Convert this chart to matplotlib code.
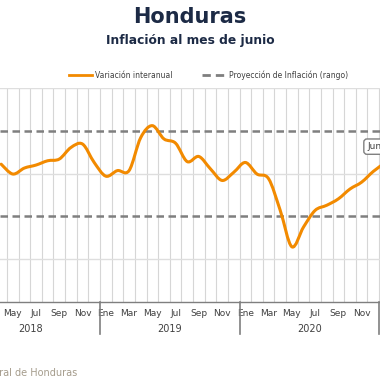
import numpy as np
import matplotlib.pyplot as plt
from matplotlib.path import Path
from matplotlib.patches import PathPatch
from matplotlib.transforms import blended_transform_factory

# monthly interannual inflation (%), Apr 2018 .. Jan 2021
meses_idx = np.arange(3, 37)          # 0 = Ene 2018
inflacion = [4.22, 3.99, 4.13, 4.20, 4.30, 4.34, 4.61, 4.69, 4.26,
             3.94, 4.07, 4.07, 4.84, 5.12, 4.81, 4.71, 4.28, 4.40, 4.11, 3.84, 4.03,
             4.26, 3.99, 3.88, 3.14, 2.29, 2.75, 3.14, 3.26, 3.41, 3.64, 3.80, 4.05,
             4.25]
rango = [3, 5]   # inflation projection range
etiquetas_mes = ['Ene', 'Feb', 'Mar', 'Abr', 'May', 'Jun', 'Jul', 'Ago', 'Sep', 'Oct', 'Nov', 'Dic']
anios = [2018, 2019, 2020, 2021]

naranja = '#f28a00'
gris = '#7f7f7f'
azul = '#1c2a45'


def smooth_path(x, y):
    """Excel-like smoothed line: catmull-rom as cubic bezier segments."""
    x = np.asarray(x, float)
    y = np.asarray(y, float)
    verts = [(x[0], y[0])]
    codes = [Path.MOVETO]
    n = len(x)
    for i in range(n - 1):
        x0, y0 = (x[i - 1], y[i - 1]) if i > 0 else (x[i], y[i])
        x3, y3 = (x[i + 2], y[i + 2]) if i + 2 < n else (x[i + 1], y[i + 1])
        c1 = (x[i] + (x[i + 1] - x0) / 6, y[i] + (y[i + 1] - y0) / 6)
        c2 = (x[i + 1] - (x3 - x[i]) / 6, y[i + 1] - (y3 - y[i]) / 6)
        verts += [c1, c2, (x[i + 1], y[i + 1])]
        codes += [Path.CURVE4] * 3
    return Path(verts, codes)


fig = plt.figure(figsize=(3.8, 3.8), dpi=100)
ax = fig.add_axes([0, 1 - 302/380, 1, (302 - 88)/380])

# grid
for m in range(0, 48):
    ax.axvline(m - 0.5, color='#d6d6d6', lw=0.8, zorder=0)
for yv in [2, 4, 6]:
    ax.axhline(yv, color='#dedede', lw=1.0, zorder=0)
for yv in rango:
    ax.axhline(yv, color=gris, lw=1.8, ls=(0, (3, 1.8)), zorder=1)

ax.add_patch(PathPatch(smooth_path(meses_idx, inflacion), fc='none', ec=naranja,
                       lw=2.2, zorder=3, capstyle='round', joinstyle='round'))

for s in ['top', 'left', 'right']:
    ax.spines[s].set_visible(False)
ax.spines['bottom'].set_color(gris)
ax.spines['bottom'].set_linewidth(1.0)
ax.set_yticks([])

ticks = np.arange(0, 48, 2)
ax.set_xticks(ticks)
ax.set_xticklabels([etiquetas_mes[t % 12] for t in ticks], fontsize=6.5, color='#404040')
ax.tick_params(axis='x', length=0, pad=5)
ax.set_xlim(2.90, 35.58)
ax.set_ylim(1, 6)

trans = blended_transform_factory(ax.transData, ax.transAxes)
for i, a in enumerate(anios):
    ax.text(12 * i + 5.5, -0.105, str(a), transform=trans, ha='center', va='top',
            fontsize=7, color='#404040', clip_on=False)
    ax.plot([12 * i - 0.5, 12 * i - 0.5], [0, -0.15], transform=trans,
            color=gris, lw=1.2, clip_on=False)

# annotation box (cut at right edge)
ax.text(34.46, 4.63, 'Jun-21: 4.6%', fontsize=6.5, color='#404040', va='center', ha='left',
        bbox=dict(boxstyle='round,pad=0.35', fc='white', ec=gris, lw=1.0), clip_on=False,
        zorder=5)

# titles
fig.text(0.5, 0.955, 'Honduras', ha='center', va='center', fontsize=15,
         fontweight='bold', color=azul)
fig.text(0.5, 0.893, 'Inflación al mes de junio', ha='center', va='center', fontsize=8.8,
         fontweight='bold', color=azul)

# legend
ly = 1 - 75/380
fig.lines.append(plt.Line2D([69/380, 92/380], [ly] * 2, color=naranja, lw=2,
                            transform=fig.transFigure))
fig.text(95/380, ly, 'Variación interanual', fontsize=5.5, color='#404040', va='center')
fig.lines.append(plt.Line2D([202/380, 227/380], [ly] * 2, color=gris, lw=2,
                            ls=(0, (3, 1.8)), transform=fig.transFigure))
fig.text(229/380, ly, 'Proyección de Inflación (rango)', fontsize=5.5,
         color='#404040', va='center')

fig.text(77/380, 1 - 373/380, 'Fuente: Banco Central de Honduras', ha='right', va='center',
         fontsize=7, color='#a59c8c')

fig.savefig('out.png', dpi=100)
